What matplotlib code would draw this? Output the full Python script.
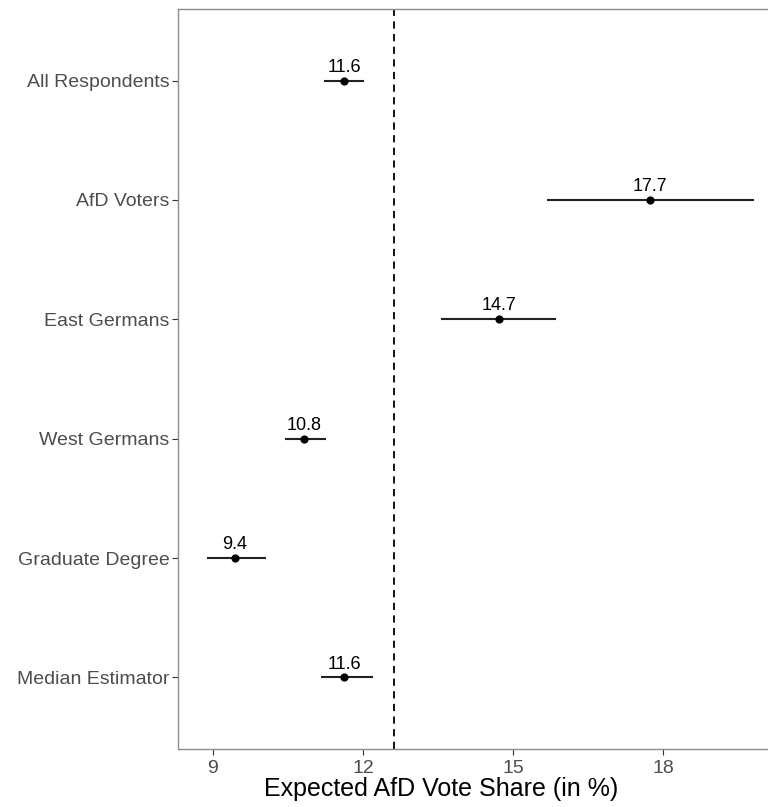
import matplotlib.pyplot as plt

plt.rcParams['font.family'] = ['Liberation Sans', 'DejaVu Sans']

groups = ['All Respondents', 'AfD Voters', 'East Germans', 'West Germans',
          'Graduate Degree', 'Median Estimator']
estimate = [11.62, 17.74, 14.72, 10.82, 9.44, 11.62]
lower = [11.22, 15.68, 13.56, 10.44, 8.88, 11.16]
upper = [12.02, 19.82, 15.86, 11.26, 10.06, 12.20]
labels = ['11.6', '17.7', '14.7', '10.8', '9.4', '11.6']
ref_line = 12.62

fig = plt.figure(figsize=(7.68, 8.07), dpi=100)
ax = fig.add_axes([178/768, 1 - 749/807, 592/768, 740/807])

ypos = list(range(1, len(groups) + 1))
ax.hlines(ypos, lower, upper, color='#222222', lw=1.5)
ax.scatter(estimate, ypos, s=24, color='black', zorder=3)
for x, y, t in zip(estimate, ypos, labels):
    ax.annotate(t, (x, y), xytext=(0, 3.5), textcoords='offset points',
                ha='center', va='bottom', fontsize=13, color='black')

ax.axvline(ref_line, color='black', ls=(0, (4, 3)), lw=1.3)

ax.set_yticks(ypos)
ax.set_yticklabels(groups)
ax.set_ylim(6.6, 0.4)
ax.set_xlim(8.30, 20.14)
ax.set_xticks([9, 12, 15, 18])
ax.set_xlabel('Expected AfD Vote Share (in %)', fontsize=18, color='black')
# label sits left of the panel centre in the reference
ax.xaxis.set_label_coords(0.444, -0.038)

for s in ax.spines.values():
    s.set_color('#8c8c8c')
    s.set_linewidth(1.0)
ax.tick_params(axis='both', colors='#333333', labelcolor='#4d4d4d', labelsize=14,
               length=4, width=0.8)
ax.tick_params(axis='x', pad=4)
ax.tick_params(axis='y', pad=2)

fig.savefig('out.png', dpi=100)
